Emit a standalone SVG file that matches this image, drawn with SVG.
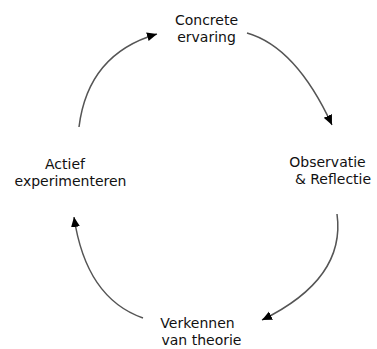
<svg xmlns="http://www.w3.org/2000/svg" width="377" height="349" viewBox="0 0 377 349">
<defs>
<style>
.lbl{font-family:"DejaVu Sans","Liberation Sans",sans-serif;font-size:14px;fill:#111}
.arc{fill:none;stroke:#555;stroke-width:1.5}
</style>
<marker id="ah" markerUnits="userSpaceOnUse" markerWidth="11" markerHeight="10" refX="10" refY="4.5" orient="auto">
<path d="M0,0 L10,4.5 L0,9 z" fill="#000"/>
</marker>
</defs>
<rect width="377" height="349" fill="#fff"/>
<g id="connectors">
<path class="arc" d="M247,33 Q296,47 332,125" marker-end="url(#ah)"/>
<path class="arc" d="M337,214 Q346,279 262,320" marker-end="url(#ah)"/>
<path class="arc" d="M143,318 Q86,298 74,217" marker-end="url(#ah)"/>
<path class="arc" d="M79,127 Q88,54 157,34" marker-end="url(#ah)"/>
</g>
<g id="concrete-ervaring">
<text class="lbl" x="206.5" y="25" text-anchor="middle">Concrete</text>
<text class="lbl" x="206.5" y="42" text-anchor="middle">ervaring</text>
</g>
<g id="observatie-reflectie">
<text class="lbl" x="327.5" y="167" text-anchor="middle">Observatie</text>
<text class="lbl" x="333" y="184" text-anchor="middle">&amp; Reflectie</text>
</g>
<g id="verkennen-theorie">
<text class="lbl" x="197.5" y="328" text-anchor="middle">Verkennen</text>
<text class="lbl" x="201.5" y="345" text-anchor="middle">van theorie</text>
</g>
<g id="actief-experimenteren">
<text class="lbl" x="65" y="169" text-anchor="middle">Actief</text>
<text class="lbl" x="70.5" y="186" text-anchor="middle">experimenteren</text>
</g>
</svg>
